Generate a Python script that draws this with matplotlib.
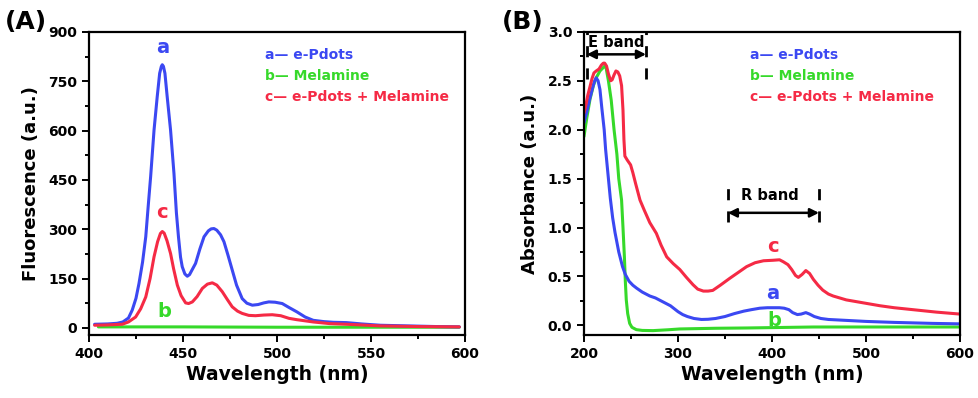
import matplotlib
matplotlib.use('Agg')
import matplotlib.pyplot as plt
from matplotlib.ticker import MultipleLocator

plt.rcParams['font.family'] = ['DejaVu Sans']
plt.rcParams['font.weight'] = 'bold'

BLUE = '#3b48f2'
GREEN = '#36d92a'
RED = '#f52a45'

# ---- panel A: fluorescence ----
fl_wl_a = [403, 410, 415, 418, 421, 423, 425, 426.6, 428.5, 430.2, 431.5, 432.8, 434.6, 436.3,
           437.6, 438.5, 439, 439.6, 440.4, 441.6, 443.4, 445.2, 446.5, 447.6, 448.7, 449.6,
           451, 452.3, 453.5, 455, 456.7, 459, 461.2, 463.5, 465, 466.5, 468, 470, 471.8, 474,
           476.2, 478.5, 481.5, 484, 486.9, 490, 493, 495.7, 499, 502.8, 506.4, 510.5, 515,
           519.3, 525, 530, 537, 545, 555, 570, 585, 597]
fl_a = [11, 12, 14, 18, 30, 54, 90, 135, 200, 277, 370, 460, 601, 703,
        774, 795, 800, 795, 774, 703, 601, 470, 350, 277, 215, 186,
        164, 157, 162, 178, 196, 240, 277, 295, 301, 302, 297, 283, 262, 220,
        176, 130, 89, 75, 69, 71, 76, 79, 78, 74, 62, 49, 33,
        23, 19, 17, 16, 12, 8, 6, 4, 3]

fl_wl_c = [403, 410, 417.7, 421, 424.8, 427.5, 430.2, 432.5, 434.6, 436.5, 438, 439, 440, 441.5,
           443.4, 445, 447, 449, 451.4, 453, 455, 457.5, 460.3, 463, 465.6, 468, 470.9, 473.5,
           476.2, 479, 481.5, 485, 488.6, 493, 497.5, 502, 506.4, 510.5, 519.3, 528, 537, 555,
           575, 597]
fl_c = [8, 9, 11, 18, 33, 58, 94, 150, 216, 262, 287, 293, 288, 265,
        226, 180, 130, 98, 76, 74, 79, 95, 120, 133, 137, 130, 110, 87,
        64, 51, 44, 38, 37, 39, 40, 37, 29, 25, 18, 13, 11, 6,
        4, 3]

fl_wl_b = [405, 450, 500, 550, 597]
fl_b = [3, 3, 2, 2, 2]

# ---- panel B: absorbance ----
ab_wl_a = [200, 203, 206, 209, 211, 213, 215, 217, 219, 221.5, 223, 225, 228, 230.5, 233, 237,
           241, 244, 248, 252, 256, 262, 270, 276, 282, 288, 292, 296, 300, 305, 310, 317,
           325, 332, 340, 350, 360, 370, 378, 387, 395, 402, 408, 413, 418, 422, 427, 431,
           436, 440, 445, 452, 460, 470, 480, 500, 530, 570, 600]
ab_a = [2.07, 2.18, 2.31, 2.42, 2.49, 2.53, 2.5, 2.41, 2.22, 2.0, 1.8, 1.6, 1.3, 1.1, 0.95, 0.75,
        0.6, 0.52, 0.45, 0.41, 0.38, 0.34, 0.3, 0.28, 0.25, 0.22, 0.2, 0.17, 0.14, 0.11, 0.09, 0.07,
        0.06, 0.062, 0.07, 0.09, 0.12, 0.145, 0.16, 0.175, 0.18, 0.18, 0.18, 0.175, 0.16, 0.13, 0.11, 0.115,
        0.13, 0.115, 0.09, 0.07, 0.06, 0.055, 0.05, 0.04, 0.03, 0.02, 0.015]

ab_wl_b = [200, 203, 206.4, 210, 213, 217, 221, 223, 226, 229, 232, 235, 237, 240, 241.5,
           243, 244, 245, 246.5, 248.6, 251, 255.7, 262, 273.5, 290, 302, 340, 373, 444, 600]
ab_b = [1.93, 2.12, 2.31, 2.45, 2.53, 2.6, 2.64, 2.66, 2.5, 2.3, 2.0, 1.75, 1.5, 1.28, 1.0,
        0.7, 0.45, 0.26, 0.12, 0.02, -0.02, -0.044, -0.052, -0.054, -0.045, -0.037, -0.03, -0.027, -0.017, -0.017]

ab_wl_c = [200, 202, 204, 206.4, 208.5, 210.6, 213, 216, 218.5, 220.6, 222, 224, 226, 228.4,
           230, 232, 234, 236, 238, 240, 241.5, 242.5, 243.5, 246, 249.6, 252, 254.9, 259.6,
           264, 270, 277, 282, 288, 295, 302, 309, 316, 321, 327, 332, 337, 345, 355, 364,
           373, 382, 391, 401, 408, 412, 417, 421, 425, 428, 432, 436, 440, 444, 449, 454,
           460, 465, 472, 479, 488, 497, 506, 515, 530, 550, 575, 600]
ab_c = [2.17, 2.25, 2.35, 2.44, 2.52, 2.58, 2.6, 2.62, 2.66, 2.68, 2.68, 2.65, 2.57, 2.5,
        2.51, 2.56, 2.6, 2.59, 2.55, 2.45, 2.2, 1.9, 1.73, 1.69, 1.64, 1.56, 1.45, 1.28,
        1.18, 1.05, 0.94, 0.82, 0.7, 0.63, 0.57, 0.49, 0.415, 0.37, 0.35, 0.35, 0.357, 0.41, 0.48, 0.54,
        0.6, 0.64, 0.66, 0.665, 0.67, 0.65, 0.62, 0.57, 0.51, 0.49, 0.52, 0.56, 0.53, 0.47, 0.41, 0.36,
        0.32, 0.3, 0.28, 0.26, 0.245, 0.23, 0.215, 0.2, 0.18, 0.16, 0.135, 0.115]

legend_names = ['a\u2014 e-Pdots', 'b\u2014 Melamine', 'c\u2014 e-Pdots + Melamine']
legend_colors = [BLUE, GREEN, RED]

fig = plt.figure(figsize=(9.79, 3.98), dpi=100)
axA = fig.add_axes([0.0909, 0.158, 0.384, 0.762])
axB = fig.add_axes([0.5965, 0.158, 0.3841, 0.762])


def style_axis(ax):
    for sp in ax.spines.values():
        sp.set_linewidth(1.6)
    ax.tick_params(which='both', direction='out', width=1.4, labelsize=10, top=False, right=False)
    ax.tick_params(which='major', length=5)
    ax.tick_params(which='minor', length=3)
    for lab in ax.get_xticklabels() + ax.get_yticklabels():
        lab.set_fontweight('bold')


lw = 2.2
kw = dict(lw=lw, solid_joinstyle='round', solid_capstyle='round')
axA.plot(fl_wl_b, fl_b, color=GREEN, **kw)
axA.plot(fl_wl_a, fl_a, color=BLUE, **kw)
axA.plot(fl_wl_c, fl_c, color=RED, **kw)
axA.set_xlim(400, 600)
axA.set_ylim(-22, 900)
axA.xaxis.set_major_locator(MultipleLocator(50))
axA.xaxis.set_minor_locator(MultipleLocator(25))
axA.yaxis.set_major_locator(MultipleLocator(150))
axA.yaxis.set_minor_locator(MultipleLocator(75))
axA.set_xlabel('Wavelength (nm)', fontsize=13.5, fontweight='bold', labelpad=3)
axA.set_ylabel('Fluorescence (a.u.)', fontsize=13, fontweight='bold', labelpad=6)
style_axis(axA)
axA.text(439, 853, 'a', color=BLUE, fontsize=14, ha='center', va='center')
axA.text(439, 350, 'c', color=RED, fontsize=14, ha='center', va='center')
axA.text(440, 50, 'b', color=GREEN, fontsize=14, ha='center', va='center')

axB.plot(ab_wl_b, ab_b, color=GREEN, **kw)
axB.plot(ab_wl_a, ab_a, color=BLUE, **kw)
axB.plot(ab_wl_c, ab_c, color=RED, **kw)
axB.set_xlim(200, 600)
axB.set_ylim(-0.1, 3.0)
axB.xaxis.set_major_locator(MultipleLocator(100))
axB.xaxis.set_minor_locator(MultipleLocator(50))
axB.yaxis.set_major_locator(MultipleLocator(0.5))
axB.yaxis.set_minor_locator(MultipleLocator(0.25))
axB.yaxis.set_major_formatter(plt.FormatStrFormatter('%.1f'))
axB.set_xlabel('Wavelength (nm)', fontsize=13.5, fontweight='bold', labelpad=3)
axB.set_ylabel('Absorbance (a.u.)', fontsize=13, fontweight='bold', labelpad=6)
style_axis(axB)
axB.text(401, 0.81, 'c', color=RED, fontsize=14, ha='center', va='center')
axB.text(401, 0.33, 'a', color=BLUE, fontsize=14, ha='center', va='center')
axB.text(403, 0.05, 'b', color=GREEN, fontsize=14, ha='center', va='center')

# band markers
dash = (0, (4, 4))
for x0 in [203, 266]:
    axB.plot([x0, x0], [2.52, 3.0], color='black', lw=2, linestyle=dash, dash_capstyle='butt')
for x0 in [353, 450]:
    axB.plot([x0, x0], [1.06, 1.47], color='black', lw=2, linestyle=dash, dash_capstyle='butt')
axB.annotate('', xy=(203, 2.77), xytext=(266, 2.77),
             arrowprops=dict(arrowstyle='<|-|>', color='black', lw=1.8, shrinkA=0, shrinkB=0,
                             mutation_scale=13))
axB.annotate('', xy=(353, 1.15), xytext=(450, 1.15),
             arrowprops=dict(arrowstyle='<|-|>', color='black', lw=1.8, shrinkA=0, shrinkB=0,
                             mutation_scale=13))
axB.text(234, 2.89, 'E band', fontsize=10.5, ha='center', va='center')
axB.text(398, 1.33, 'R band', fontsize=10.5, ha='center', va='center')

# legends as coloured text
for ax, x0 in ((axA, 0.468), (axB, 0.441)):
    for i, (name, col) in enumerate(zip(legend_names, legend_colors)):
        ax.text(x0, 0.925 - i * 0.07, name, color=col, fontsize=10,
                transform=ax.transAxes, ha='left', va='center')

fig.text(0.005, 0.945, '(A)', fontsize=18, fontweight='bold', va='center')
fig.text(0.513, 0.945, '(B)', fontsize=18, fontweight='bold', va='center')

fig.savefig('out.png', dpi=100)
